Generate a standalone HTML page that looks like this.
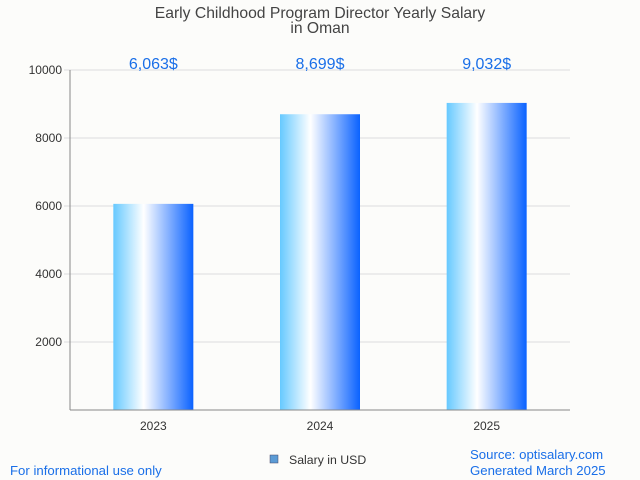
<!DOCTYPE html>
<html><head><meta charset="utf-8"><style>
body{margin:0;background:#fcfcfa;font-family:"Liberation Sans",sans-serif;}
svg{display:block}
</style></head><body>
<svg id="c" width="640" height="480">
<defs><linearGradient id="g" x1="0" x2="1" y1="0" y2="0">
<stop offset="0" stop-color="#66c9ff"/><stop offset="0.38" stop-color="#ffffff"/><stop offset="1" stop-color="#0a62ff"/>
</linearGradient></defs>
<text x="320" y="18" text-anchor="middle" font-size="15.7" fill="#444">Early Childhood Program Director Yearly Salary</text>
<text x="320" y="33" text-anchor="middle" font-size="15.7" fill="#444">in Oman</text>
<g id="grid"></g><g id="bars"></g>
<line x1="70" y1="70" x2="70" y2="410" stroke="#888"/>
<line x1="70" y1="410" x2="570" y2="410" stroke="#888"/>
<rect x="270" y="455" width="8" height="8" fill="#5b9bd5" stroke="#446" stroke-width="0.5"/>
<text x="289" y="464" font-size="12.3" fill="#333">Salary in USD</text>
<text x="10" y="475" font-size="13.2" fill="#1a6fe8">For informational use only</text>
<text x="470" y="459" font-size="13.2" fill="#1a6fe8">Source: optisalary.com</text>
<text x="470" y="475" font-size="13.2" fill="#1a6fe8">Generated March 2025</text>
</svg>
<script>
const categories=["2023","2024","2025"];
const values=[6063,8699,9032];
const valueLabels=["6,063$","8,699$","9,032$"];
const yTicks=[2000,4000,6000,8000,10000];
const NS="http://www.w3.org/2000/svg";
const x0=70,x1=570,y0=410,yTop=70,yMax=10000;
const y=v=>y0-(v/yMax)*(y0-yTop);
const band=(x1-x0)/categories.length;
const xc=i=>x0+band*(i+0.5);
function mk(t,a,p){const e=document.createElementNS(NS,t);for(const k in a)e.setAttribute(k,a[k]);p.appendChild(e);return e;}
const grid=document.getElementById('grid'),bars=document.getElementById('bars');
yTicks.forEach(v=>{
 const l=mk('line',{x1:x0-6,x2:x1,y1:y(v),y2:y(v),stroke:'#ddd'},grid);
 
 
 const t=mk('text',{x:x0-8,y:y(v)+4,'text-anchor':'end','font-size':12,fill:'#333'},grid);
 t.textContent=v;
 
 
});
categories.forEach((c,i)=>{
 const r=mk('rect',{x:xc(i)-40,y:y(values[i]),width:80,height:y0-y(values[i]),fill:'url(#g)'},bars);
 
 
 const t=mk('text',{x:xc(i),y:430,'text-anchor':'middle','font-size':12,fill:'#333'},bars);
 t.textContent=c;
 
 
 const v=mk('text',{x:xc(i),y:69,'text-anchor':'middle','font-size':16,fill:'#1a6fe8'},bars);
 v.textContent=valueLabels[i];
 
 
});
</script>
</body></html>
